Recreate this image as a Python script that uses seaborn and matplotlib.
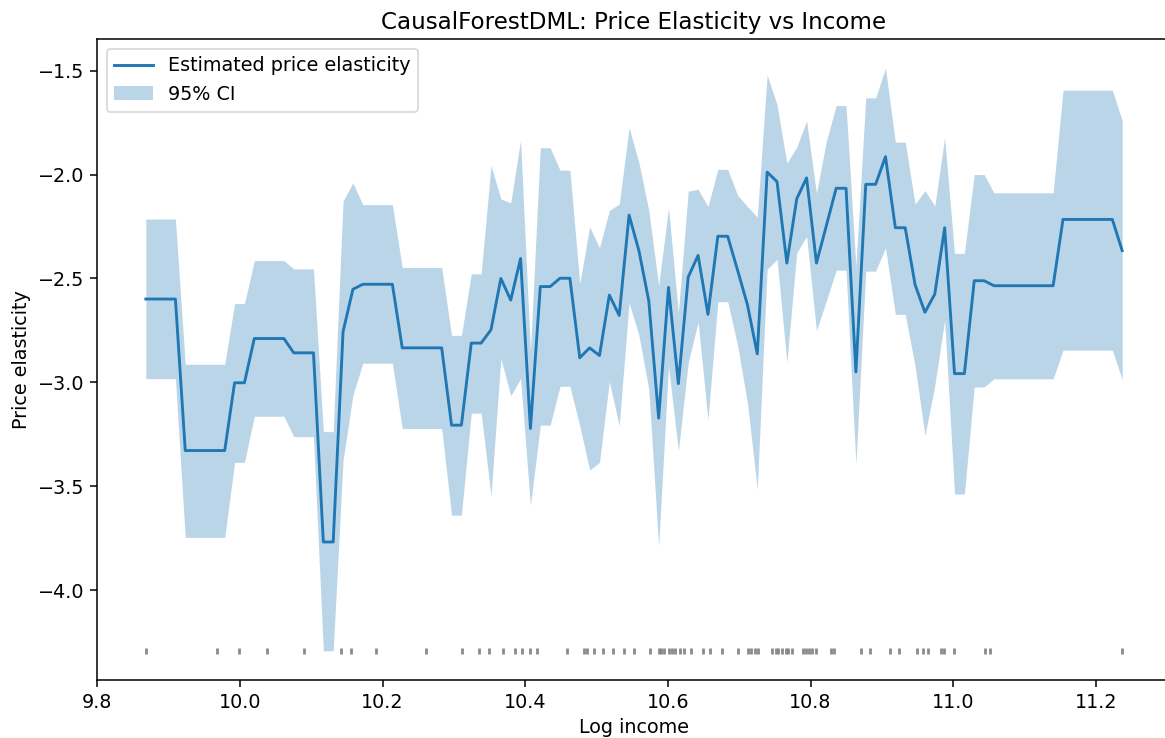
import numpy as np
import matplotlib
matplotlib.use("Agg")
import matplotlib.pyplot as plt
import seaborn as sns

# Observed log-income values (shown as a rug along the bottom)
log_income = [
    9.868, 9.968, 9.998, 10.038, 10.090, 10.141, 10.155, 10.191, 10.261,
    10.311, 10.335, 10.349, 10.369, 10.385, 10.395, 10.407, 10.416, 10.458,
    10.482, 10.487, 10.496, 10.509, 10.523, 10.539, 10.552, 10.575, 10.587,
    10.591, 10.595, 10.601, 10.606, 10.610, 10.617, 10.623, 10.633, 10.649,
    10.659, 10.676, 10.699, 10.713, 10.717, 10.722, 10.726, 10.746, 10.751,
    10.755, 10.760, 10.765, 10.769, 10.774, 10.789, 10.794, 10.798, 10.802,
    10.808, 10.829, 10.833, 10.871, 10.884, 10.911, 10.924, 10.949, 10.958,
    10.965, 10.983, 10.987, 11.001, 11.045, 11.052, 11.237,
]

# Estimated price elasticity on a 100-point income grid
elasticity = [
    -2.599, -2.599, -2.599, -2.599,
    -3.328, -3.328, -3.328, -3.328, -3.328,
    -3.002, -3.002,
    -2.789, -2.789, -2.789, -2.789,
    -2.858, -2.858, -2.858,
    -3.768, -3.768,
    -2.756, -2.552,
    -2.528, -2.528, -2.528, -2.528,
    -2.834, -2.834, -2.834, -2.834, -2.834,
    -3.206, -3.206,
    -2.811, -2.811,
    -2.747, -2.500, -2.604, -2.404, -3.222,
    -2.539, -2.539, -2.499, -2.499,
    -2.882, -2.834, -2.871, -2.580, -2.678,
    -2.195, -2.367, -2.608, -3.172, -2.543,
    -3.006, -2.493, -2.389, -2.673, -2.297,
    -2.297, -2.460, -2.626, -2.863, -1.988,
    -2.034, -2.426, -2.117, -2.016, -2.426,
    -2.247, -2.066, -2.066, -2.950, -2.047,
    -2.047, -1.914, -2.256, -2.256, -2.530,
    -2.663, -2.575, -2.256, -2.958, -2.958,
    -2.511, -2.511,
    -2.535, -2.535, -2.535, -2.535, -2.535, -2.535, -2.535,
    -2.216, -2.216, -2.216, -2.216, -2.216, -2.216,
    -2.366,
]

ci_upper = [
    -2.214, -2.214, -2.214, -2.214,
    -2.913, -2.913, -2.913, -2.913, -2.913,
    -2.621, -2.621,
    -2.414, -2.414, -2.414, -2.414,
    -2.454, -2.454, -2.454,
    -3.237, -3.237,
    -2.127, -2.040,
    -2.145, -2.145, -2.145, -2.145,
    -2.447, -2.447, -2.447, -2.447, -2.447,
    -2.774, -2.774,
    -2.478, -2.478,
    -1.956, -2.117, -2.136, -1.834, -2.848,
    -1.871, -1.871, -1.979, -1.979,
    -2.525, -2.251, -2.352, -2.173, -2.142,
    -1.775, -1.942, -2.173, -2.534, -2.160,
    -2.663, -2.080, -2.071, -2.154, -1.975,
    -1.975, -2.099, -2.154, -2.204, -1.520,
    -1.664, -1.945, -1.868, -1.742, -2.090,
    -1.840, -1.668, -1.668, -2.441, -1.631,
    -1.631, -1.488, -1.844, -1.844, -2.142,
    -2.077, -2.151, -1.822, -2.379, -2.379,
    -2.000, -2.000,
    -2.088, -2.088, -2.088, -2.088, -2.088, -2.088, -2.088,
    -1.594, -1.594, -1.594, -1.594, -1.594, -1.594,
    -1.740,
]

ci_lower = [
    -2.982, -2.982, -2.982, -2.982,
    -3.746, -3.746, -3.746, -3.746, -3.746,
    -3.385, -3.385,
    -3.163, -3.163, -3.163, -3.163,
    -3.261, -3.261, -3.261,
    -4.292, -4.292,
    -3.376, -3.061,
    -2.908, -2.908, -2.908, -2.908,
    -3.222, -3.222, -3.222, -3.222, -3.222,
    -3.639, -3.639,
    -3.148, -3.148,
    -3.546, -2.885, -3.065, -2.982, -3.594,
    -3.206, -3.206, -3.019, -3.019,
    -3.209, -3.422, -3.385, -2.996, -3.209,
    -2.617, -2.774, -3.033, -3.788, -2.922,
    -3.330, -2.904, -2.710, -3.181, -2.612,
    -2.612, -2.821, -3.098, -3.515, -2.456,
    -2.408, -2.904, -2.377, -2.297, -2.752,
    -2.608, -2.460, -2.460, -3.394, -2.465,
    -2.465, -2.352, -2.673, -2.673, -2.922,
    -3.255, -3.015, -2.700, -3.537, -3.537,
    -3.022, -3.022,
    -2.983, -2.983, -2.983, -2.983, -2.983, -2.983, -2.983,
    -2.845, -2.845, -2.845, -2.845, -2.845, -2.845,
    -2.987,
]

x_obs = np.asarray(log_income)
grid = np.linspace(x_obs.min(), x_obs.max(), len(elasticity))
est = np.asarray(elasticity)
lo = np.asarray(ci_lower)
hi = np.asarray(ci_upper)

k = 1.15
plt.rcParams.update({
    "font.size": 10 * k,
    "axes.linewidth": 0.8 * k,
    "xtick.major.size": 3.5 * k,
    "ytick.major.size": 3.5 * k,
    "xtick.major.width": 0.8 * k,
    "ytick.major.width": 0.8 * k,
})

dpi = 120
fig = plt.figure(figsize=(1165 / dpi, 738 / dpi), dpi=dpi)
ax = fig.add_axes([97 / 1165, 58 / 738, 1074 / 1165, 641 / 738])

sns.lineplot(x=grid, y=est, ax=ax, color="#1f77b4", linewidth=1.5 * k,
             label="Estimated price elasticity")
ax.fill_between(grid, lo, hi, color="#1f77b4", alpha=0.3, linewidth=0,
                label="95% CI")

# rug of observed incomes at the bottom of the CI range
ax.plot(x_obs, np.full_like(x_obs, lo.min()), "|", color="gray",
        alpha=0.9, markersize=3.2, markeredgewidth=1.7)

ax.set_title("CausalForestDML: Price Elasticity vs Income")
ax.set_xlabel("Log income")
ax.set_ylabel("Price elasticity")
ax.legend(loc="upper left")

fig.savefig("out.png", dpi=dpi)
